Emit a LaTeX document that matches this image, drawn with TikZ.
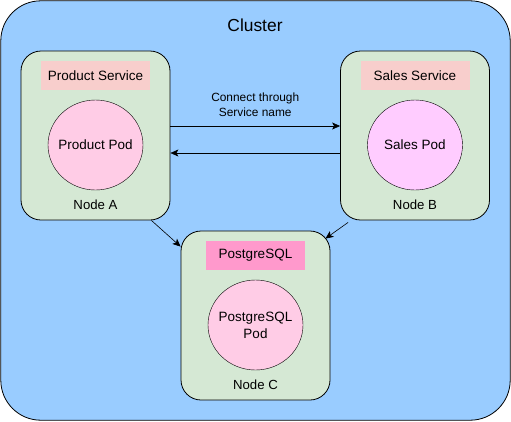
\documentclass[tikz,border=0pt]{standalone}
\usepackage{fontspec}
\setmainfont{Liberation Sans}
\usetikzlibrary{arrows.meta,shapes.geometric}
\begin{document}
\begin{tikzpicture}[x=1pt,y=-1pt,
    hostbox/.style={draw,thick,fill=hostgreen,rounded corners=20pt,minimum width=149pt,minimum height=169pt},
    svclabel/.style={fill=svcpink,minimum width=109pt,minimum height=29pt,font=\fontsize{13.5}{16}\selectfont},
    podcirc/.style={draw,fill=podpink,ellipse,inner xsep=-14pt,inner ysep=0pt,minimum width=95pt,minimum height=90pt,align=center,font=\fontsize{13.5}{17}\selectfont},
    hostname/.style={font=\fontsize{13.2}{15}\selectfont},
    conn/.style={-{Stealth[length=8pt,width=7pt,inset=2pt]},line width=0.6pt}]
        %colores
        \definecolor{clusterblue}{HTML}{99CCFF}
        \definecolor{hostgreen}{HTML}{D5E8D4}
        \definecolor{svcpink}{HTML}{F8CECC}
        \definecolor{podpink}{HTML}{FFCCE6}
        \definecolor{podviolet}{HTML}{FFCCFF}
        \definecolor{dbpink}{HTML}{FF99CC}
        \useasboundingbox (0,0) rectangle (511,421);
        % cluster
        \draw[thick,fill=clusterblue,rounded corners=40pt] (0.8,0.8) rectangle (510.2,420.2);
        \node[font=\fontsize{17.4}{20}\selectfont] (cluster) at (255,25) {Cluster};

        % nodo A
        \node[hostbox] (nodeA) at (95.5,135.5) {};
        \node[svclabel] (prodsvc) at (95.5,75.5) {Product Service};
        \node[podcirc] (prodpod) at (95.5,145) {Product Pod};
        \node[hostname] (nameA) at (95.5,205) {Node A};

        % nodo B
        \node[hostbox] (nodeB) at (415,135.5) {};
        \node[svclabel] (salessvc) at (415,75.5) {Sales Service};
        \node[podcirc,fill=podviolet] (salespod) at (415,145) {Sales Pod};
        \node[hostname] (nameB) at (415,205) {Node B};

        % nodo C
        \node[hostbox] (nodeC) at (255.5,315.5) {};
        \node[svclabel,fill=dbpink,minimum width=99pt] (pgsvc) at (255.5,255) {PostgreSQL};
        \node[podcirc] (pgpod) at (255.5,325) {PostgreSQL\\Pod};
        \node[hostname] (nameC) at (255.5,385) {Node C};

        % conexiones
        \draw[conn] ([yshift=9.5pt]nodeA.east) -- ([yshift=9.5pt]nodeB.west)
            node[midway,above=6pt,align=center,font=\fontsize{11.9}{15}\selectfont] (connlbl) {Connect through\\Service name};
        \draw[conn] ([yshift=-17.5pt]nodeB.west) -- ([yshift=-17.5pt]nodeA.east);
        \draw[conn] ([xshift=-19pt]nodeA.south east) -- ([yshift=-16pt]nodeC.north west);
        \draw[conn] ([xshift=8pt,yshift=-2pt]nodeB.south west) -- ([xshift=-5pt,yshift=-8pt]nodeC.north east);
    \end{tikzpicture}
\end{document}
